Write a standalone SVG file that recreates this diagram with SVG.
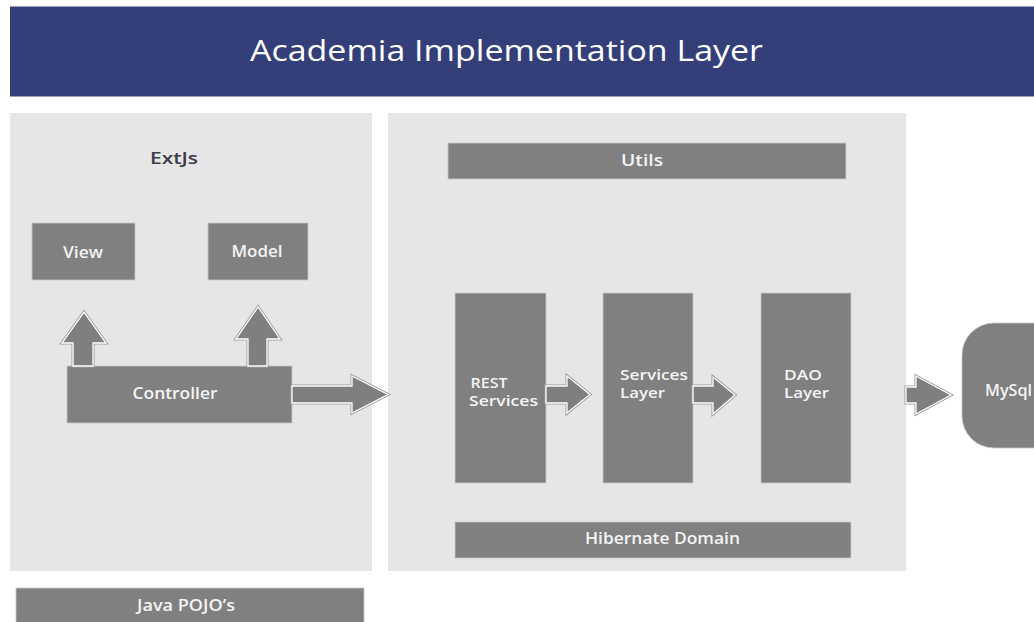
<svg xmlns="http://www.w3.org/2000/svg" width="1034" height="622" viewBox="0 0 1034 622">
<style>
.panel{fill:#e6e6e6}
.box{fill:#808080;stroke:#c8c8c8;stroke-width:0.8}
.lbl{font-family:"Open Sans","Noto Sans","Liberation Sans",sans-serif;font-size:16px;font-weight:600;fill:#f4f4f4}
.two{font-size:15px}
.mid{text-anchor:middle}
.arrO{fill:none;stroke:#9c9c9c;stroke-width:3;stroke-linejoin:miter}
.arrI{fill:#7f7f7f;stroke:#ffffff;stroke-width:1.3;stroke-linejoin:miter}
</style>
<rect width="1034" height="622" fill="#ffffff"/>
<g id="title">
<rect x="10" y="6.5" width="1024" height="90" fill="#343f7a"/>
<text x="506.5" y="61" class="mid" font-family="'Open Sans','Noto Sans','Liberation Sans',sans-serif" font-size="30" fill="#ffffff" textLength="513" lengthAdjust="spacingAndGlyphs">Academia Implementation Layer</text>
</g>
<g id="extjs-panel">
<rect class="panel" x="10" y="113" width="362" height="458"/>
<text x="174" y="164" class="mid" font-family="'Open Sans','Noto Sans','Liberation Sans',sans-serif" font-size="16.5" font-weight="600" fill="#3b3b4b" textLength="48" lengthAdjust="spacingAndGlyphs">ExtJs</text>
</g>
<g id="server-panel">
<rect class="panel" x="388" y="113" width="518" height="458"/>
</g>
<g id="view"><rect class="box" x="32" y="223" width="103" height="57"/><text class="lbl mid" x="83" y="258" textLength="40" lengthAdjust="spacingAndGlyphs">View</text></g>
<g id="model"><rect class="box" x="208" y="223" width="100" height="57"/><text class="lbl mid" x="257" y="257" textLength="51" lengthAdjust="spacingAndGlyphs">Model</text></g>
<g id="controller"><rect class="box" x="67" y="366" width="225" height="57"/><text class="lbl mid" x="175" y="399" textLength="85" lengthAdjust="spacingAndGlyphs">Controller</text></g>
<g id="utils"><rect class="box" x="448" y="143" width="398" height="36"/><text class="lbl mid" x="642" y="166" textLength="42" lengthAdjust="spacingAndGlyphs">Utils</text></g>
<g id="rest"><rect class="box" x="455" y="293" width="91" height="190"/><text class="lbl two" x="470.5" y="388" textLength="37" lengthAdjust="spacingAndGlyphs">REST</text><text class="lbl two" x="469" y="406" textLength="69" lengthAdjust="spacingAndGlyphs">Services</text></g>
<g id="services"><rect class="box" x="603" y="293" width="90" height="190"/><text class="lbl two" x="620" y="380" textLength="68" lengthAdjust="spacingAndGlyphs">Services</text><text class="lbl two" x="620" y="398" textLength="45" lengthAdjust="spacingAndGlyphs">Layer</text></g>
<g id="dao"><rect class="box" x="761" y="293" width="90" height="190"/><text class="lbl two" x="784" y="380" textLength="38" lengthAdjust="spacingAndGlyphs">DAO</text><text class="lbl two" x="784" y="398" textLength="45" lengthAdjust="spacingAndGlyphs">Layer</text></g>
<g id="hibernate"><rect class="box" x="455" y="522" width="396" height="36"/><text class="lbl mid" x="662.5" y="544" textLength="155" lengthAdjust="spacingAndGlyphs">Hibernate Domain</text></g>
<g id="mysql"><rect x="962" y="323" width="110" height="125" rx="32" ry="32" fill="#808080" stroke="#c8c8c8" stroke-width="0.8"/><text class="lbl" x="985" y="396" textLength="47" lengthAdjust="spacingAndGlyphs">MySql</text></g>
<g id="pojo"><rect class="box" x="16" y="588" width="348" height="40"/><text class="lbl mid" x="186" y="611" textLength="98" lengthAdjust="spacingAndGlyphs">Java POJO’s</text></g>
<g id="connectors">
<polygon class="arrO" points="73,366 73,343 62,343 84,312 106,343 93,343 93,366"/>
<polygon class="arrI" points="73,366 73,343 62,343 84,312 106,343 93,343 93,366"/>
<polygon class="arrO" points="248,366 248,339 236,339 258,307 280,339 267,339 267,366"/>
<polygon class="arrI" points="248,366 248,339 236,339 258,307 280,339 267,339 267,366"/>
<polygon class="arrO" points="292,386 352,386 352,376 388,394.5 352,413 352,403 292,403"/>
<polygon class="arrI" points="292,386 352,386 352,376 388,394.5 352,413 352,403 292,403"/>
<polygon class="arrO" points="546,386 567,386 567,376 590,394.5 567,413 567,403 546,403"/>
<polygon class="arrI" points="546,386 567,386 567,376 590,394.5 567,413 567,403 546,403"/>
<polygon class="arrO" points="693,386 713,386 713,377 735,395 713,414 713,403 693,403"/>
<polygon class="arrI" points="693,386 713,386 713,377 735,395 713,414 713,403 693,403"/>
<polygon class="arrO" points="906,387 916,387 916,376 951,395 916,414 916,403 906,403"/>
<polygon class="arrI" points="906,387 916,387 916,376 951,395 916,414 916,403 906,403"/>
</g>
</svg>
